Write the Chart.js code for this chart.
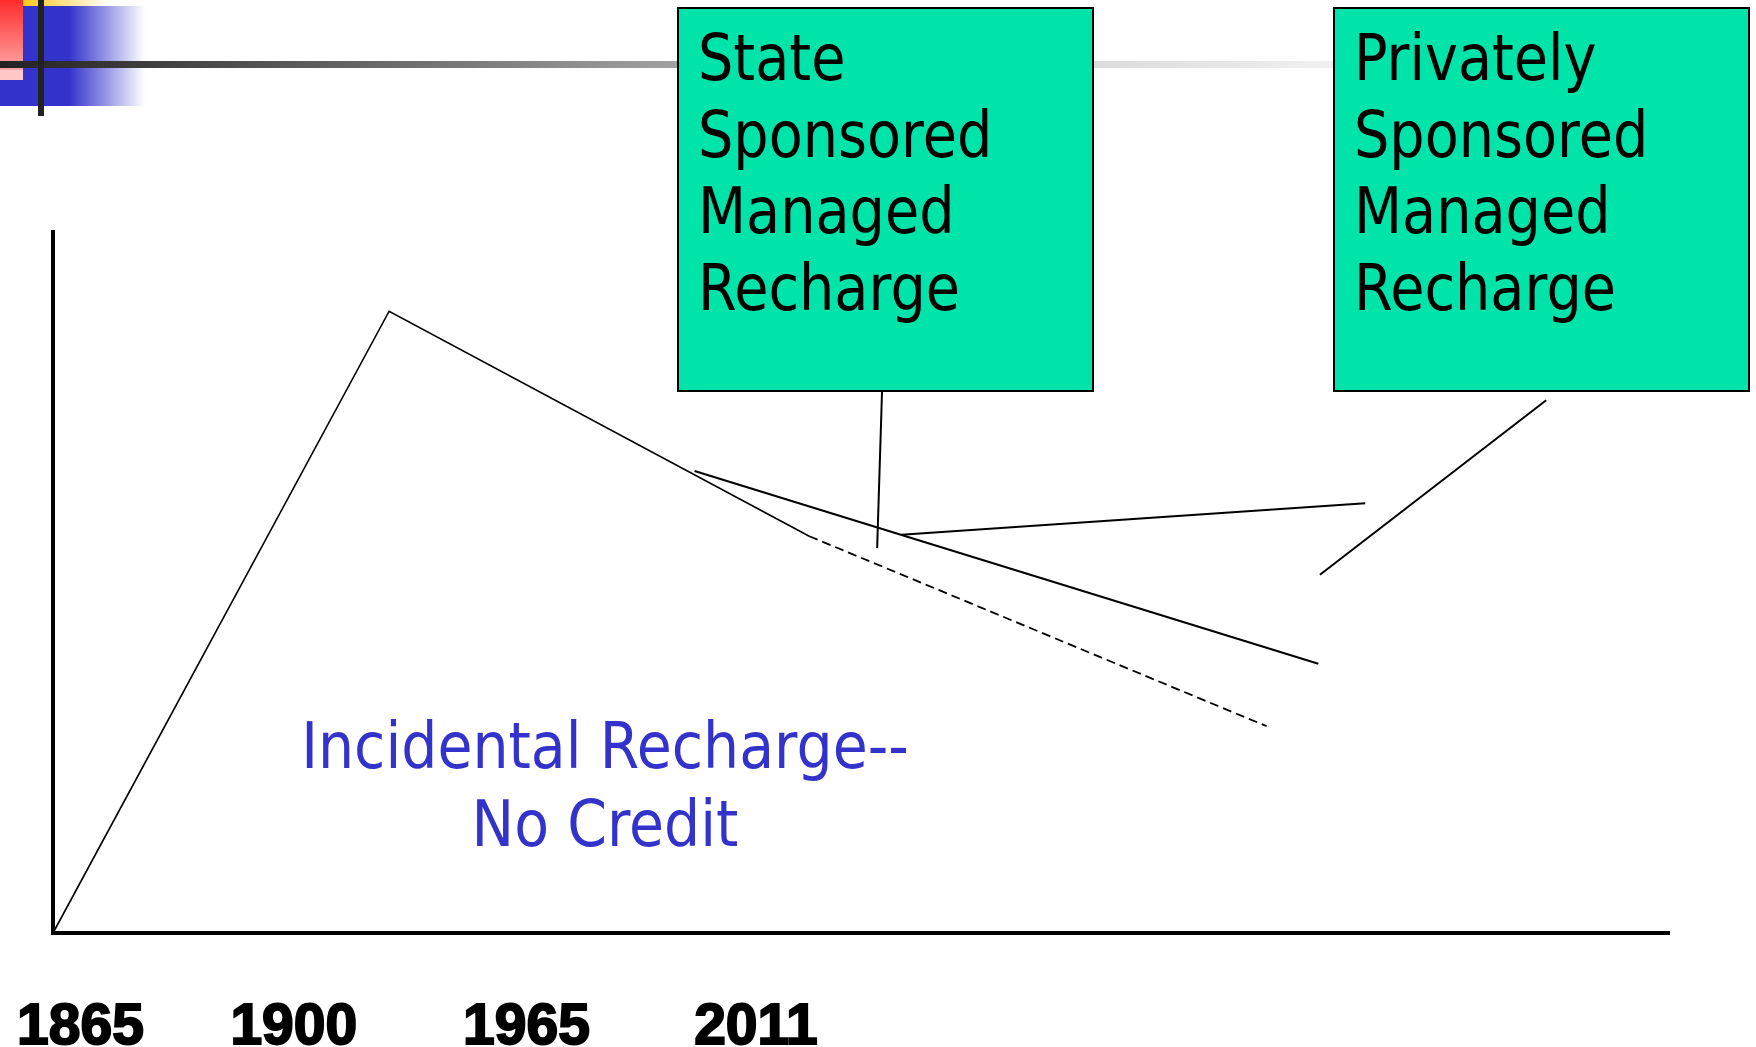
<!DOCTYPE html>
<html>
<head>
<meta charset="utf-8">
<title>Managed recharge</title>
<script src="https://cdn.jsdelivr.net/npm/chart.js@4.4.0/dist/chart.umd.min.js"></script>
<style>
  html, body { margin: 0; padding: 0; background: #fff; }
  #wrap { width: 1756px; height: 1047px; position: relative; }
</style>
</head>
<body>
<div id="wrap"><canvas id="chart" width="1756" height="1047"></canvas></div>
<script>
// x axis: where the year labels sit (chart units, 0-100) and their text
const tickPositions = [1.7, 14.9, 29.3, 43.5];
const tickLabels = ['1865', '1900', '1965', '2011'];

// the curves in chart units (0-100 on both axes)
const incidentalLine = [{x: 0, y: 0}, {x: 20.8, y: 88.7}, {x: 46.8, y: 56.6}];
const incidentalTrend = [{x: 46.8, y: 56.6}, {x: 75.1, y: 29.5}];
const stateLine = [{x: 39.7, y: 65.9}, {x: 78.3, y: 38.4}];
const privateLine = [{x: 52.5, y: 56.8}, {x: 81.2, y: 61.3}];
const stateCallout = [{x: 51.3, y: 77.2}, {x: 51.0, y: 54.9}];
const privateCallout = [{x: 92.4, y: 76.0}, {x: 78.4, y: 51.1}];

// text
const stateLabel = ['State', 'Sponsored', 'Managed', 'Recharge'];
const privateLabel = ['Privately', 'Sponsored', 'Managed', 'Recharge'];
const incidentalLabel = ['Incidental Recharge--', 'No Credit'];

const BOX_FILL = '#00e3a9';
const BLUE = '#3333cc';

// slide font is narrower than DejaVu, so squeeze it a bit
function squeezedText(ctx, text, x, y, align, squeeze) {
    ctx.save();
    ctx.translate(x, y);
    ctx.scale(squeeze, 1);
    ctx.textAlign = align;
    ctx.fillText(text, 0, 0);
    ctx.restore();
}

function drawBox(ctx, left, top, w, h, lines) {
    ctx.save();
    ctx.fillStyle = BOX_FILL;
    ctx.fillRect(left, top, w, h);
    ctx.strokeStyle = '#000';
    ctx.lineWidth = 2;
    ctx.strokeRect(left, top, w, h);
    ctx.fillStyle = '#000';
    ctx.font = '64px "DejaVu Sans"';
    ctx.textBaseline = 'alphabetic';
    lines.forEach((t, i) => squeezedText(ctx, t, left + 20, top + 72 + i * 76.7, 'left', 0.87));
    ctx.restore();
}

const slideDecor = {
    id: 'slideDecor',
    beforeDraw(chart) {
        const ctx = chart.ctx;
        ctx.save();
        // blue block fading out to the right
        let g = ctx.createLinearGradient(0, 0, 145, 0);
        g.addColorStop(0, BLUE);
        g.addColorStop(0.476, BLUE);
        g.addColorStop(1, 'rgba(51,51,204,0)');
        ctx.fillStyle = g;
        ctx.fillRect(0, 6, 145, 100);
        // yellow strip at the top
        g = ctx.createLinearGradient(23, 0, 110, 0);
        g.addColorStop(0, '#ffc81e');
        g.addColorStop(1, 'rgba(255,200,30,0)');
        ctx.fillStyle = g;
        ctx.fillRect(23, 0, 90, 6);
        // red square
        g = ctx.createLinearGradient(0, 0, 0, 70);
        g.addColorStop(0, '#ff2b2b');
        g.addColorStop(1, '#ffa6a6');
        ctx.fillStyle = g;
        ctx.fillRect(0, 0, 23, 70);
        ctx.fillStyle = '#ffc8c8';
        ctx.fillRect(0, 70, 23, 10);
        // long grey rule
        g = ctx.createLinearGradient(0, 0, 1334, 0);
        g.addColorStop(0, '#222222');
        g.addColorStop(0.5, '#a0a0a0');
        g.addColorStop(0.82, '#dcdcdc');
        g.addColorStop(1, '#f0f0f0');
        ctx.fillStyle = g;
        ctx.fillRect(0, 61, 1334, 7);
        // black upright
        ctx.fillStyle = '#222';
        ctx.fillRect(38, 0, 6, 116);
        ctx.restore();
    },
    afterDraw(chart) {
        const ctx = chart.ctx;
        drawBox(ctx, 678, 8, 415, 383, stateLabel);
        drawBox(ctx, 1334, 8, 415, 383, privateLabel);

        ctx.save();
        ctx.fillStyle = BLUE;
        ctx.font = '64px "DejaVu Sans"';
        ctx.textBaseline = 'alphabetic';
        incidentalLabel.forEach((t, i) => squeezedText(ctx, t, 605, 768 + i * 78, 'center', 0.89));
        ctx.restore();
    }
};

function lineSet(data, width, dash) {
    return {
        data: data,
        showLine: true,
        borderColor: '#000',
        borderWidth: width,
        borderDash: dash || [],
        pointRadius: 0,
        pointHoverRadius: 0,
        tension: 0,
        fill: false,
        clip: false
    };
}

new Chart(document.getElementById('chart'), {
    type: 'scatter',
    data: {
        datasets: [
            lineSet(incidentalLine, 1.6),
            lineSet(incidentalTrend, 1.8, [9, 5]),
            lineSet(stateLine, 2),
            lineSet(privateLine, 2),
            lineSet(stateCallout, 2),
            lineSet(privateCallout, 2)
        ]
    },
    options: {
        responsive: false,
        animation: false,
        events: [],
        layout: { padding: { left: 53, top: 232, right: 87, bottom: 0 } },
        plugins: {
            legend: { display: false },
            tooltip: { enabled: false }
        },
        scales: {
            x: {
                type: 'linear',
                min: 0,
                max: 100,
                grid: { display: false, drawTicks: false },
                border: { display: true, color: '#000', width: 4 },
                afterBuildTicks: (scale) => {
                    scale.ticks = tickPositions.map(v => ({ value: v }));
                },
                afterFit: (scale) => {
                    scale.height = 114;
                    // labels may hang past the axis ends, like on the slide
                    scale.paddingLeft = 0;
                    scale.paddingRight = 0;
                },
                ticks: {
                    autoSkip: false,
                    maxRotation: 0,
                    padding: 61,
                    color: '#000',
                    textStrokeColor: '#000',
                    textStrokeWidth: 2,
                    font: { family: '"Liberation Sans", Arial, sans-serif', size: 57, weight: 'bold' },
                    callback: (v, i) => tickLabels[i]
                }
            },
            y: {
                type: 'linear',
                min: 0,
                max: 100,
                grid: { display: false, drawTicks: false },
                border: { display: true, color: '#000', width: 4 },
                ticks: { display: false },
                afterFit: (scale) => {
                    scale.width = 0;
                    scale.paddingTop = 0;
                    scale.paddingBottom = 0;
                }
            }
        }
    },
    plugins: [slideDecor]
});
</script>
</body>
</html>
